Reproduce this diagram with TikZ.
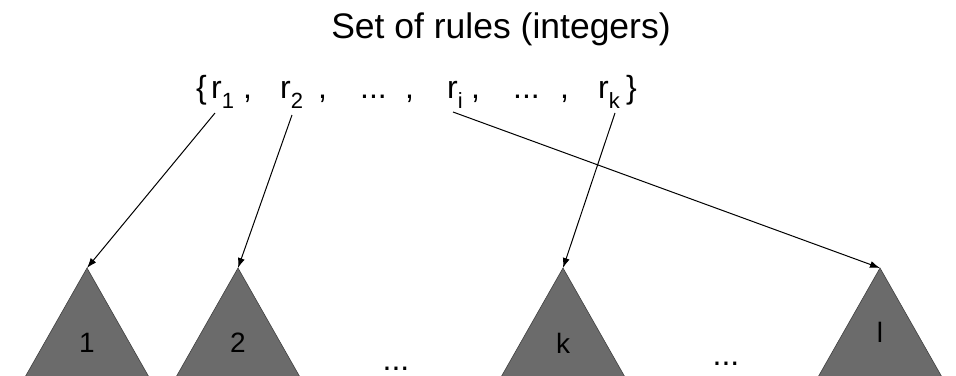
\documentclass[tikz,border=0pt]{standalone}
\usepackage{fontspec}
\setmainfont{Liberation Sans}
\usetikzlibrary{arrows.meta}

\newcommand{\setfont}{\fontsize{32}{36}\selectfont}
\newcommand{\idx}[1]{\raisebox{-10pt}{\fontsize{22}{24}\selectfont #1}}

\begin{document}
\begin{tikzpicture}[
  x=1pt,y=-1pt,
  elem/.style={inner sep=0pt,anchor=base west,font=\setfont},
  tree/.style={fill=black!58,draw=black!75,line width=0.6pt},
  treelabel/.style={inner sep=0pt,anchor=base,font=\fontsize{28}{32}\selectfont},
  link/.style={->,line width=1pt},
  >={Latex[length=10pt,width=7pt]}
]
\useasboundingbox (0,0) rectangle (956,375);
\clip (0,0) rectangle (956,375);

\node[inner sep=0pt,anchor=base,font=\fontsize{35.5}{40}\selectfont] (title) at (501,38) {Set of rules (integers)};

% the set
\node[elem] (lbrace) at (196,98) {\{};
\node[elem] (r1) at (211,98) {r\idx{1}};
\node[elem] (c1) at (243,98) {,};
\node[elem] (r2) at (280,98) {r\idx{2}};
\node[elem] (c2) at (318,98) {,};
\node[elem] (d1) at (360,98) {...};
\node[elem] (c3) at (405,98) {,};
\node[elem] (ri) at (447,98) {r\idx{i}};
\node[elem] (c4) at (471,98) {,};
\node[elem] (d2) at (513,98) {...};
\node[elem] (c5) at (560,98) {,};
\node[elem] (rk) at (598,98) {r\idx{k}};
\node[elem] (rbrace) at (626,98) {\}};

% trees
\coordinate (t1) at (87,268);
\coordinate (t2) at (238,268);
\coordinate (tk) at (563,268);
\coordinate (tl) at (880,268);
\foreach \t in {t1,t2,tk,tl}
  \filldraw[tree] (\t) -- ++(-71,125) -- ++(142,0) -- cycle;

\node[treelabel] (n1) at (87,352) {1};
\node[treelabel] (n2) at (238,352) {2};
\node[treelabel] (nk) at (563,353) {k};
\node[treelabel] (nl) at (880,342) {l};
\node[inner sep=0pt,anchor=base,font=\setfont] (dots1) at (396,370) {...};
\node[inner sep=0pt,anchor=base,font=\setfont] (dots2) at (726,365) {...};

\draw[link] ([shift={(4,15)}]r1.base west) -- (t1);
\draw[link] ([shift={(12,17)}]r2.base west) -- (t2);
\draw[link] ([shift={(6,14)}]ri.base west) -- (tl);
\draw[link] ([shift={(17,15)}]rk.base west) -- (tk);
\end{tikzpicture}
\end{document}
